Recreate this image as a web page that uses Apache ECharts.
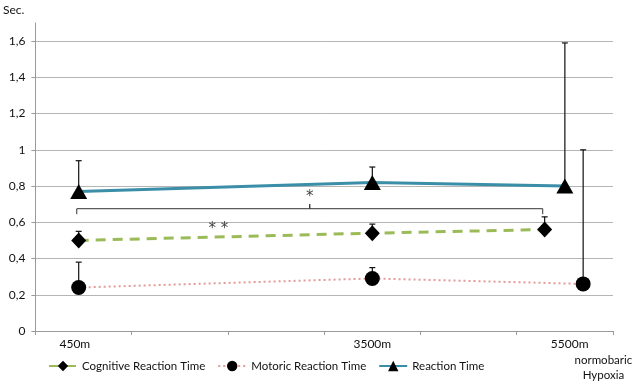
<!DOCTYPE html>
<html><head><meta charset="utf-8">
<script src="https://cdn.jsdelivr.net/npm/echarts@6/dist/echarts.min.js"></script>
<style>html,body{margin:0;padding:0;background:#fff}#c{width:637px;height:387px}</style>
</head><body><div id="c"></div>
<script>
const seriesNames = ['Cognitive Reaction Time', 'Motoric Reaction Time', 'Reaction Time'];
const xLabelPos = [0.41, 3.5, 5.55];
const xLabels = ['450m', '3500m', '5500m'];
const extraLabelPos = 5.9;
const extraLabel = 'normobaric\nHypoxia';
const cognitiveX = [0.45, 3.5, 5.29];
const cognitiveY = [0.50, 0.54, 0.56];
const cognitiveErr = [0.55, 0.59, 0.63];
const motoricX = [0.45, 3.5, 5.69];
const motoricY = [0.24, 0.29, 0.26];
const motoricErr = [0.38, 0.35, 1.00];
const reactionX = [0.45, 3.5, 5.5];
const reactionY = [0.77, 0.82, 0.80];
const reactionErr = [0.94, 0.905, 1.59];
const bracketX = [0.43, 0.43, 2.85, 2.85, 2.85, 5.27, 5.27];
const bracketY = [0.645, 0.675, 0.675, 0.70, 0.675, 0.675, 0.645];
const starLabels = ['*', '* *'];
const starX = [2.85, 1.9];
const starY = [0.74, 0.56];

const FONT = 'Lato';
const zip = (xs, ys) => xs.map((x, i) => [x, ys[i]]);

function errSeries(xs, ys, tops) {
  return {
    type: 'custom', silent: true, z: 1,
    data: xs.map((x, i) => [x, ys[i], tops[i]]),
    encode: { x: 0, y: [1, 2] },
    renderItem: (p, api) => {
      const a = api.coord([api.value(0), api.value(1)]);
      const b = api.coord([api.value(0), api.value(2)]);
      return {
        type: 'group', children: [
          { type: 'line', shape: { x1: a[0], y1: a[1], x2: b[0], y2: b[1] }, style: { stroke: '#111', lineWidth: 1.2 } },
          { type: 'line', shape: { x1: b[0] - 3, y1: b[1], x2: b[0] + 3, y2: b[1] }, style: { stroke: '#111', lineWidth: 1.2 } }
        ]
      };
    }
  };
}

const chart = echarts.init(document.getElementById('c'));
chart.setOption({
  animation: false,
  backgroundColor: '#fff',
  textStyle: { fontFamily: FONT },
  grid: { left: 33, right: 24, top: 23, bottom: 56 },
  legend: {
    data: seriesNames,
    left: 43, top: 355,
    itemWidth: 28, itemHeight: 13, itemGap: 12,
    textStyle: { fontFamily: FONT, fontSize: 11.5, color: '#111' }
  },
  xAxis: {
    type: 'value', min: 0, max: 6, interval: 1,
    axisLine: { show: true, lineStyle: { color: '#9a9a9a' } },
    axisTick: { show: true, length: 4, lineStyle: { color: '#9a9a9a' } },
    splitLine: { show: false },
    axisLabel: {
      customValues: xLabelPos,
      margin: 7,
      fontFamily: FONT, fontSize: 12, color: '#111',
      formatter: v => {
        let best = 0;
        xLabelPos.forEach((p, i) => { if (Math.abs(p - v) < Math.abs(xLabelPos[best] - v)) best = i; });
        return xLabels[best];
      }
    }
  },
  yAxis: {
    type: 'value', min: 0, max: 1.7, interval: 0.2,
    name: 'Sec.', nameLocation: 'end', nameGap: 7,
    nameTextStyle: { fontFamily: FONT, fontSize: 12, color: '#111', align: 'right', padding: [0, 11, 0, 0] },
    axisLine: { show: true, lineStyle: { color: '#9a9a9a' } },
    axisTick: { show: true, length: 4, lineStyle: { color: '#9a9a9a' } },
    splitLine: { show: true, showMaxLine: false, lineStyle: { color: '#b5b5b5', width: 1 } },
    axisLabel: {
      showMaxLabel: false, margin: 10,
      fontFamily: FONT, fontSize: 12, color: '#111',
      formatter: v => String(Math.round(v * 10) / 10).replace('.', ',')
    }
  },
  series: [
    errSeries(cognitiveX, cognitiveY, cognitiveErr),
    errSeries(motoricX, motoricY, motoricErr),
    errSeries(reactionX, reactionY, reactionErr),
    {
      type: 'line', name: 'Bracket', data: zip(bracketX, bracketY), symbol: 'none', silent: true,
      lineStyle: { color: '#333', width: 1 }, z: 1
    },
    {
      type: 'scatter', name: 'Stars', silent: true, symbolSize: 1, itemStyle: { color: 'rgba(0,0,0,0)' },
      data: starX.map((x, i) => ({ value: [x, starY[i]], name: starLabels[i] })),
      label: { show: true, position: 'inside', formatter: p => p.name, fontFamily: 'DejaVu Sans', fontSize: 15, color: '#111' }
    },
    {
      type: 'line', name: seriesNames[0], data: zip(cognitiveX, cognitiveY),
      symbol: 'diamond', symbolSize: [15, 16],
      itemStyle: { color: '#000' },
      lineStyle: { color: '#9bbb59', width: 3, type: [10, 7] }, z: 3
    },
    {
      type: 'line', name: seriesNames[1], data: zip(motoricX, motoricY),
      symbol: 'circle', symbolSize: 15,
      itemStyle: { color: '#000' },
      lineStyle: { color: '#e39a9a', width: 2, type: [2, 3] }, z: 3
    },
    {
      type: 'line', name: seriesNames[2], data: zip(reactionX, reactionY),
      symbol: 'triangle', symbolSize: [17, 15],
      itemStyle: { color: '#000' },
      lineStyle: { color: '#3b8ea8', width: 3 }, z: 3
    }
  ]
});
const px = chart.convertToPixel({ xAxisIndex: 0 }, extraLabelPos);
const py = chart.convertToPixel({ yAxisIndex: 0 }, 0);
chart.setOption({
  graphic: [{
    type: 'text', x: px, y: py + 22,
    style: { text: extraLabel, fontFamily: FONT, fontSize: 11.5, fill: '#111', align: 'center', verticalAlign: 'top', lineHeight: 15 }
  }]
});
</script>
</body></html>
